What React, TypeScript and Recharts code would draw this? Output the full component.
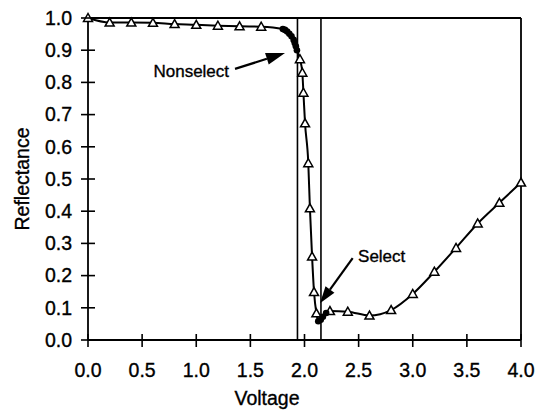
import { ComposedChart, Line, Scatter, XAxis, YAxis, ReferenceLine, ReferenceDot, Label } from 'recharts';

// open triangles: voltage sweep readings
const triVolts = [0, 0.2, 0.4, 0.6, 0.8, 1.0, 1.2, 1.4, 1.6, 1.958, 1.98, 1.99, 2.005, 2.035, 2.05, 2.07, 2.088, 2.11, 2.235, 2.4, 2.6, 2.8, 3.0, 3.2, 3.4, 3.6, 3.8, 4.0];
const triRefl = [1.0, 0.986, 0.986, 0.985, 0.981, 0.979, 0.976, 0.974, 0.973, 0.872, 0.83, 0.768, 0.673, 0.549, 0.409, 0.259, 0.149, 0.083, 0.09, 0.088, 0.076, 0.093, 0.143, 0.212, 0.286, 0.362, 0.426, 0.489];

// filled circles: dense readings around the two switching points
const dotVolts = [1.8, 1.82, 1.84, 1.86, 1.88, 1.9, 1.91, 1.92, 1.93, 2.127, 2.15, 2.17, 2.2];
const dotRefl = [0.966, 0.963, 0.958, 0.951, 0.943, 0.932, 0.922, 0.912, 0.9, 0.058, 0.063, 0.072, 0.084];

const xTicks = [0, 0.5, 1, 1.5, 2, 2.5, 3, 3.5, 4];
const yTicks = [0, 0.1, 0.2, 0.3, 0.4, 0.5, 0.6, 0.7, 0.8, 0.9, 1.0];

// nonselect / select voltages
const markerVolts = [1.935, 2.152];

const triangles = triVolts.map((v, i) => ({ v, r: triRefl[i] }));
const dots = dotVolts.map((v, i) => ({ v, r: dotRefl[i] }));
const curve = [...triangles, ...dots].sort((a, b) => a.v - b.v);

const FONT = 'Arial, "Liberation Sans", sans-serif';
// slight outline so the glyphs read a little heavier
const ink = { fill: '#000', stroke: '#000', strokeWidth: 0.35 };

const XTick = ({ x, y, payload }: any) => (
  <g>
    <line x1={x} x2={x} y1={y - 6} y2={y + 7} stroke="#000" strokeWidth={1.6} />
    <text x={x} y={y + 37} textAnchor="middle" fontSize={19.5} fontFamily={FONT} {...ink}>
      {Number(payload.value).toFixed(1)}
    </text>
  </g>
);

const YTick = ({ x, y, payload }: any) => (
  <g>
    <line x1={x - 7} x2={x + 7} y1={y} y2={y} stroke="#000" strokeWidth={1.6} />
    <text x={x - 16} y={y} dy="0.35em" textAnchor="end" fontSize={19.5} fontFamily={FONT} {...ink}>
      {Number(payload.value).toFixed(1)}
    </text>
  </g>
);

const Triangle = ({ cx, cy }: any) => (
  <polygon
    points={`${cx},${cy - 4.5} ${cx - 4.5},${cy + 3.5} ${cx + 4.5},${cy + 3.5}`}
    fill="#fff"
    stroke="#000"
    strokeWidth={1.5}
  />
);

const Dot = ({ cx, cy }: any) => <circle cx={cx} cy={cy} r={3.3} fill="#000" />;

// line with a filled arrow head at the second end point
const Arrow = ({ x1, y1, x2, y2, head = 18, half = 5.5 }: any) => {
  const dx = x2 - x1;
  const dy = y2 - y1;
  const len = Math.hypot(dx, dy);
  const ux = dx / len;
  const uy = dy / len;
  const bx = x2 - ux * head;
  const by = y2 - uy * head;
  return (
    <g>
      <line x1={x1} y1={y1} x2={bx} y2={by} stroke="#000" strokeWidth={2.2} />
      <polygon
        points={`${x2},${y2} ${bx - uy * half},${by + ux * half} ${bx + uy * half},${by - ux * half}`}
        fill="#000"
      />
    </g>
  );
};

export default function App() {
  return (
    <div style={{ width: 537, height: 410, overflow: 'hidden', boxSizing: 'border-box', padding: '8px 0 0 8px' }}>
      <style>{'body { margin: 0; }'}</style>
      <ComposedChart width={529} height={402} margin={{ top: 10, right: 16, bottom: 8, left: 0 }}>
        <XAxis
          dataKey="v"
          type="number"
          domain={[0, 4]}
          ticks={xTicks}
          interval={0}
          height={62}
          tickSize={0}
          tickMargin={0}
          tickLine={false}
          axisLine={{ stroke: '#000', strokeWidth: 1.8 }}
          tick={<XTick />}
        >
          <Label
            content={({ viewBox }: any) => (
              <text x={viewBox.x + 179} y={viewBox.y + 65} textAnchor="middle" fontSize={19.5} fontFamily={FONT} {...ink}>
                Voltage
              </text>
            )}
          />
        </XAxis>
        <YAxis
          dataKey="r"
          type="number"
          domain={[0, 1]}
          ticks={yTicks}
          interval={0}
          width={80}
          tickSize={0}
          tickMargin={0}
          tickLine={false}
          axisLine={{ stroke: '#000', strokeWidth: 1.8 }}
          tick={<YTick />}
        >
          <Label
            content={({ viewBox }: any) => {
              const cx = viewBox.x + 14;
              const cy = viewBox.y + viewBox.height / 2;
              return (
                <text
                  x={cx}
                  y={cy}
                  transform={`rotate(-90 ${cx} ${cy})`}
                  textAnchor="middle"
                  dominantBaseline="central"
                  fontSize={19.5}
                  fontFamily={FONT}
                  {...ink}
                >
                  Reflectance
                </text>
              );
            }}
          />
        </YAxis>

        {/* frame */}
        <ReferenceLine y={1} stroke="#000" strokeWidth={1.8} />
        <ReferenceLine x={4} stroke="#000" strokeWidth={1.8} />
        {markerVolts.map((v) => (
          <ReferenceLine key={v} x={v} stroke="#000" strokeWidth={1.6} />
        ))}

        <Line
          data={curve}
          dataKey="r"
          type="monotone"
          stroke="#000"
          strokeWidth={2}
          dot={false}
          activeDot={false}
          isAnimationActive={false}
        />
        <Scatter data={triangles} shape={<Triangle />} isAnimationActive={false} />
        <Scatter data={dots} shape={<Dot />} isAnimationActive={false} />

        <ReferenceLine
          segment={[{ x: 1.358, y: 0.842 }, { x: 1.82, y: 0.891 }]}
          shape={(p: any) => <Arrow {...p} head={19} half={6} />}
        />
        <ReferenceLine
          segment={[{ x: 2.445, y: 0.254 }, { x: 2.143, y: 0.114 }]}
          shape={(p: any) => <Arrow {...p} head={17} half={5.5} />}
        />
        <ReferenceDot
          x={0.954}
          y={0.835}
          r={0}
          fill="none"
          stroke="none"
          label={{ value: 'Nonselect', position: 'center', fontSize: 17, fontFamily: FONT, ...ink }}
        />
        <ReferenceDot
          x={2.713}
          y={0.261}
          r={0}
          fill="none"
          stroke="none"
          label={{ value: 'Select', position: 'center', fontSize: 17, fontFamily: FONT, ...ink }}
        />
      </ComposedChart>
    </div>
  );
}
